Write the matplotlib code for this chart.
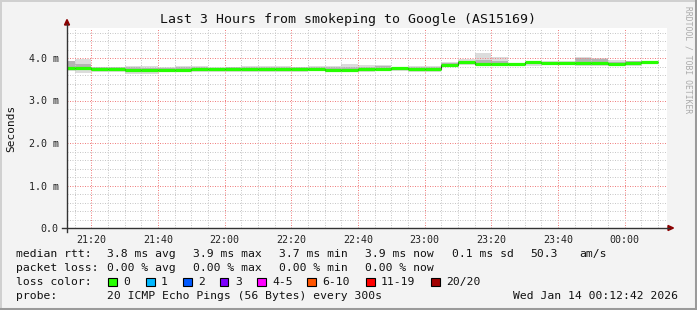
import matplotlib
matplotlib.use('Agg')
import matplotlib.pyplot as plt
from matplotlib.lines import Line2D
from matplotlib.patches import Polygon, Rectangle

W, H = 697, 310

# 5-minute bins (start time of each step)
bin_starts = ['21:10', '21:15', '21:20', '21:25', '21:30', '21:35', '21:40', '21:45', '21:50',
              '21:55', '22:00', '22:05', '22:10', '22:15', '22:20', '22:25', '22:30', '22:35',
              '22:40', '22:45', '22:50', '22:55', '23:00', '23:05', '23:10', '23:15', '23:20',
              '23:25', '23:30', '23:35', '23:40', '23:45', '23:50', '23:55', '00:00', '00:05']

# milliseconds
median_ms = [3.76, 3.76, 3.73, 3.73, 3.72, 3.72, 3.72, 3.72, 3.73, 3.73, 3.73, 3.73,
             3.73, 3.73, 3.75, 3.74, 3.71, 3.71, 3.73, 3.75, 3.76, 3.75, 3.73, 3.83,
             3.90, 3.87, 3.87, 3.85, 3.90, 3.89, 3.89, 3.89, 3.89, 3.86, 3.89, 3.91]
max_ms = [3.94, 3.97, 3.80, 3.80, 3.81, 3.81, 3.80, 3.81, 3.81, 3.80, 3.80, 3.82,
          3.82, 3.82, 3.80, 3.82, 3.82, 3.85, 3.83, 3.84, 3.80, 3.81, 3.81, 3.91,
          3.97, 4.12, 4.02, 3.89, 3.91, 3.92, 3.92, 4.03, 4.00, 3.95, 3.93, 3.93]
min_ms = [3.69, 3.65, 3.66, 3.66, 3.62, 3.62, 3.68, 3.68, 3.68, 3.68, 3.68, 3.66,
          3.66, 3.66, 3.68, 3.69, 3.66, 3.68, 3.68, 3.69, 3.70, 3.68, 3.67, 3.80,
          3.84, 3.81, 3.81, 3.81, 3.82, 3.83, 3.83, 3.81, 3.82, 3.81, 3.82, 3.86]
upper_ms = [3.92, 3.86, 3.78, 3.78, 3.80, 3.76, 3.77, 3.80, 3.80, 3.77, 3.78, 3.79,
            3.79, 3.78, 3.78, 3.80, 3.78, 3.78, 3.80, 3.81, 3.79, 3.78, 3.78, 3.88,
            3.94, 3.95, 3.92, 3.88, 3.91, 3.91, 3.91, 3.99, 3.97, 3.90, 3.92, 3.92]
lower_ms = [3.72, 3.71, 3.69, 3.69, 3.68, 3.66, 3.70, 3.70, 3.70, 3.70, 3.70, 3.69,
            3.69, 3.69, 3.71, 3.70, 3.68, 3.69, 3.70, 3.71, 3.72, 3.71, 3.70, 3.81,
            3.86, 3.84, 3.84, 3.82, 3.85, 3.85, 3.85, 3.85, 3.85, 3.83, 3.85, 3.88]

y_ticks = [0, 1, 2, 3, 4]
y_labels = ['0.0', '1.0 m', '2.0 m', '3.0 m', '4.0 m']
x_labels = ['21:20', '21:40', '22:00', '22:20', '22:40', '23:00', '23:20', '23:40', '00:00']

loss_labels = ['0', '1', '2', '3', '4-5', '6-10', '11-19', '20/20']
loss_colors = ['#26ff00', '#00b8ff', '#0059ff', '#7e00ff', '#ff00ff', '#ff5500', '#ff0000', '#a10000']

MONO = 'DejaVu Sans Mono'


def to_min(s):
    h, m = map(int, s.split(':'))
    if h < 12:
        h += 24
    return (h - 21) * 60 + m


def fp(x, y):
    # pixel -> figure fraction
    return x / W, 1 - y / H


fig = plt.figure(figsize=(W / 100, H / 100), dpi=100)
fig.patch.set_facecolor('#f3f3f3')

ax = fig.add_axes([67 / W, 1 - 228 / H, 600 / W, 200 / H])
ax.set_facecolor('white')

edges = [to_min(t) for t in bin_starts] + [to_min(bin_starts[-1]) + 5]
start = to_min('21:12') + 42 / 60
ax.set_xlim(start, start + 180)
ax.set_ylim(0, 200 / 42.5)

# smoke
ax.stairs(max_ms, edges, baseline=min_ms, fill=True, color='#dcdcdc', zorder=1)
ax.stairs(upper_ms, edges, baseline=lower_ms, fill=True, color='#b4b4b4', zorder=1.2)
# median: thin dark joins, green horizontal bars
ax.stairs(median_ms, edges, baseline=None, color='#222222', lw=0.8, zorder=2.8)
ax.hlines(median_ms, edges[:-1], edges[1:], color=loss_colors[0], lw=2.3, zorder=3)

# grid
ax.set_xticks([to_min(t) for t in x_labels])
ax.set_xticks([m for m in range(15, 193, 5)], minor=True)
ax.set_yticks(y_ticks)
ax.set_yticks([v / 5 for v in range(0, 24)], minor=True)
ax.grid(True, which='minor', color='#c8c8c8', lw=0.72, ls=(0, (1, 1.5)))
ax.grid(True, which='major', color='#f08080', lw=0.72, ls=(0, (1, 1.5)))
ax.set_axisbelow(False)
ax.tick_params(which='both', length=0)
ax.set_xticklabels(x_labels, fontfamily=MONO, fontsize=7.2, color='#222222')
ax.set_yticklabels(y_labels, fontfamily=MONO, fontsize=7.2, color='#222222')
ax.tick_params(axis='x', pad=5)
ax.tick_params(axis='y', pad=6)
for s in ax.spines.values():
    s.set_visible(False)

# axis lines and arrows
fig.add_artist(Line2D([fp(67, 0)[0]] * 2, [fp(0, 232)[1], fp(0, 24)[1]], color='#333333', lw=1))
fig.add_artist(Line2D([fp(62, 0)[0], fp(669, 0)[0]], [fp(0, 228)[1]] * 2, color='#333333', lw=1))
fig.add_artist(Polygon([fp(64.5, 25), fp(69.5, 25), fp(67, 19.5)], closed=True,
                       color='#8b0000', transform=fig.transFigure))
fig.add_artist(Polygon([fp(668, 225.5), fp(668, 230.5), fp(673.5, 228)], closed=True,
                       color='#8b0000', transform=fig.transFigure))

# titles
fig.text(*fp(348, 19), 'Last 3 Hours from smokeping to Google (AS15169)', fontfamily=MONO,
         fontsize=9.5, ha='center', va='center', color='#111111')
fig.text(*fp(11, 128), 'Seconds', fontfamily=MONO, fontsize=8, rotation=90,
         ha='center', va='center', color='#111111')
fig.text(*fp(688, 60), 'RRDTOOL / TOBI OETIKER', fontfamily=MONO, fontsize=5.8,
         rotation=270, ha='center', va='center', color='#aaaaaa')

# legend rows
rows = [
    (254, [(16, 'median rtt:'), (107, '3.8 ms avg'), (193, '3.9 ms max'), (279, '3.7 ms min'),
           (365, '3.9 ms now'), (452, '0.1 ms sd'), (530, '50.3'), (579, 'am/s')]),
    (268, [(16, 'packet loss:'), (107, '0.00 % avg'), (193, '0.00 % max'),
           (279, '0.00 % min'), (365, '0.00 % now')]),
    (282, [(16, 'loss color:')]),
    (296, [(16, 'probe:'), (107, '20 ICMP Echo Pings (56 Bytes) every 300s'),
           (513, 'Wed Jan 14 00:12:42 2026')]),
]
for y, items in rows:
    for x, s in items:
        fig.text(*fp(x, y), s, fontfamily=MONO, fontsize=8.2, ha='left', va='center',
                 color='#111111')

box_x = [108, 146, 183, 220, 257, 307, 366, 431]
for bx, lab, col in zip(box_x, loss_labels, loss_colors):
    x0, y0 = fp(bx, 286)
    fig.add_artist(Rectangle((x0, y0), 8.5 / W, 8.5 / H, facecolor=col, edgecolor='black',
                             lw=0.8, transform=fig.transFigure))
    fig.text(*fp(bx + 15, 282), lab, fontfamily=MONO, fontsize=8.2, ha='left', va='center',
             color='#111111')

# frame
fig.add_artist(Line2D([0, 1], [fp(0, 0.5)[1]] * 2, color='#d0d0d0', lw=1.4))
fig.add_artist(Line2D([fp(0.5, 0)[0]] * 2, [0, 1], color='#d0d0d0', lw=1.4))
fig.add_artist(Line2D([0, 1], [fp(0, 308.5)[1]] * 2, color='#9a9a9a', lw=2.2))
fig.add_artist(Line2D([fp(695.5, 0)[0]] * 2, [0, 1], color='#9a9a9a', lw=2.2))

fig.savefig('out.png', dpi=100, facecolor=fig.get_facecolor())
